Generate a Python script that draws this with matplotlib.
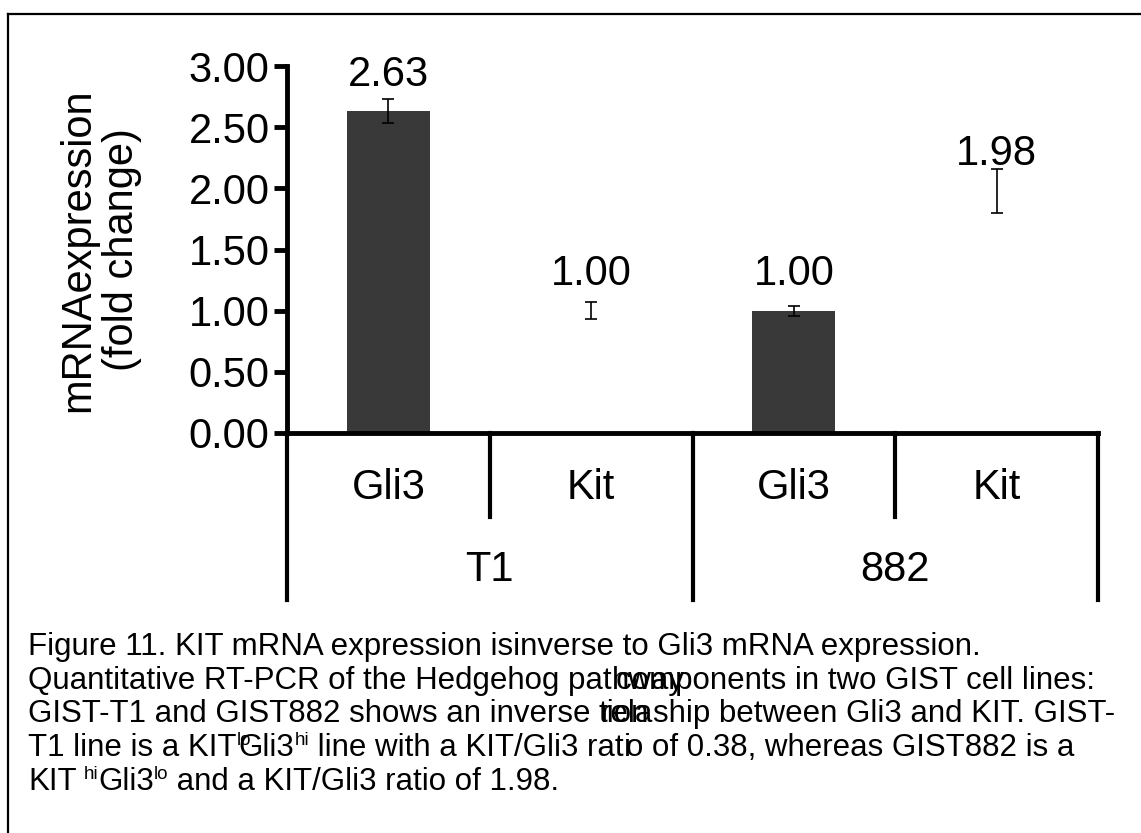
import matplotlib
matplotlib.use('Agg')
import matplotlib.pyplot as plt
from matplotlib.lines import Line2D

plt.rcParams['font.family'] = ['Liberation Sans', 'DejaVu Sans']

# Data
genes = ['Gli3', 'Kit', 'Gli3', 'Kit']
cell_lines = ['T1', '882']
fold_change = [2.63, 1.00, 1.00, 1.98]
errors = [0.10, 0.07, 0.04, 0.18]
value_labels = ['2.63', '1.00', '1.00', '1.98']
bar_colors = ['#393939', 'white', '#393939', 'white']
yticks = [0.0, 0.5, 1.0, 1.5, 2.0, 2.5, 3.0]

W, H = 1141, 833
fig = plt.figure(figsize=(W / 100, H / 100), dpi=100)
fig.patch.set_facecolor('white')

# axes placed to match the reference (pixel positions)
ax = fig.add_axes([287 / W, 1 - 433 / H, (1098 - 287) / W, (433 - 66) / H])
x = list(range(len(genes)))
ax.bar(x, fold_change, width=0.41, color=bar_colors, edgecolor='none', zorder=2)
ax.errorbar(x, fold_change, yerr=errors, fmt='none', ecolor='black',
            elinewidth=1.2, capsize=4, capthick=1.2, zorder=3)

for xi, v, lab in zip(x, fold_change, value_labels):
    ax.text(xi, v + 0.21, lab, ha='center', va='baseline', fontsize=30)

ax.set_xlim(-0.5, 3.5)
ax.set_ylim(0, 3)
ax.set_yticks(yticks)
ax.set_yticklabels([f'{t:.2f}' for t in yticks])
ax.set_xticks([])
ax.tick_params(axis='y', direction='out', length=9.5, width=3.5, pad=3, labelsize=30)
for side in ['top', 'right']:
    ax.spines[side].set_visible(False)
ax.spines['left'].set_linewidth(3.5)
ax.spines['bottom'].set_linewidth(3.5)
ax.spines['left'].set_capstyle('projecting')
ax.spines['bottom'].set_capstyle('projecting')

# category labels and dividers below the axis
trans = ax.get_xaxis_transform()
for xi, g in enumerate(genes):
    ax.text(xi, -0.15, g, transform=trans, ha='center', va='center', fontsize=30)
for gi, c in enumerate(cell_lines):
    ax.text(2 * gi + 0.5, -0.373, c, transform=trans, ha='center', va='center', fontsize=30)
for xd in [0.5, 2.5]:
    ax.add_line(Line2D([xd, xd], [0, -0.229], transform=trans, color='black',
                       lw=3, clip_on=False))
for xd in [-0.5, 1.5, 3.5]:
    ax.add_line(Line2D([xd, xd], [0, -0.455], transform=trans, color='black',
                       lw=3, clip_on=False))

fig.text(100 / W, 1 - 250 / H, 'mRNAexpression\n(fold change)', rotation=90,
         ha='center', va='center', fontsize=30, linespacing=1.1, multialignment='center')

# outer frame (top and left edges only)
fig.add_artist(Line2D([8 / W, 1], [1 - 14 / H, 1 - 14 / H], transform=fig.transFigure,
                      color='black', lw=1.6))
fig.add_artist(Line2D([8 / W, 8 / W], [0, 1 - 14 / H], transform=fig.transFigure,
                      color='black', lw=1.6))

# caption, drawn in fragments so the overlaps of the original stay
renderer = fig.canvas.get_renderer()
CAP = 22.5
SUP = 13.5


def put(s, xp, yp, sup=False):
    t = fig.text(xp / W, 1 - (yp - 11 if sup else yp) / H, s,
                 fontsize=SUP if sup else CAP, va='baseline', ha='left')
    return t.get_window_extent(renderer).x1


y0, dy = 655, 33.7
put('Figure 11. KIT mRNA expression isinverse to Gli3 mRNA expression.', 28, y0)

yl = y0 + dy
xe = put('Quantitative RT-PCR of the Hedgehog pat', 28, yl)
put('hway', xe, yl)
put('components in two GIST cell lines:', xe + 4, yl)

yl = y0 + 2 * dy
xe = put('GIST-T1 and GIST882 shows an inverse', 28, yl)
xa = put('tion', xe + 8, yl)
xb = put('rela', xe + 10, yl)
put('ship between Gli3 and KIT. GIST-', max(xa, xb), yl)

yl = y0 + 3 * dy
xe = put('T1 line is a KIT', 28, yl)
put('lo', xe, yl, sup=True)
xe = put('Gli3', xe + 2, yl)
xe = put('hi', xe, yl, sup=True)
xe = put(' line with a KIT/Gli3 rat', xe, yl)
xe = put('i', xe, yl)
put('o of 0.38, whereas GIST882 is a', xe - 5, yl)

yl = y0 + 4 * dy
xe = put('KIT', 28, yl)
xe = put('hi', xe + 7, yl, sup=True)
xe = put('Gli3', xe, yl)
xe = put('lo', xe, yl, sup=True)
put(' and a KIT/Gli3 ratio of 1.98.', xe, yl)

fig.savefig('out.png', dpi=100)
